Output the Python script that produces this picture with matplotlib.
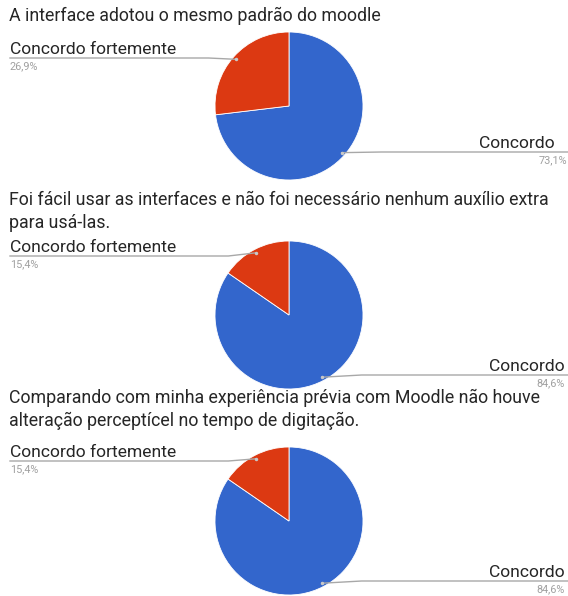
import numpy as np
import matplotlib.pyplot as plt

# DATA
titles = ["A interface adotou o mesmo padrão do moodle",
          "Foi fácil usar as interfaces e não foi necessário nenhum auxílio extra\npara usá-las.",
          "Comparando com minha experiência prévia com Moodle não houve\nalteração perceptícel no tempo de digitação."]
categories = ["Concordo", "Concordo fortemente"]
concordo = [73.1, 84.6, 84.6]
concordo_fortemente = [26.9, 15.4, 15.4]
colors = ["#3366cc", "#dc3912"]

# LAYOUT (pixels, top-left origin)
W, H = 568, 596
pie_cx = 289
pie_cy = [106, 315, 521]
pie_r = 74
title_base = [21, 205, 403]
left_line_y = [58, 256, 461]
right_line_y = [152, 375, 581]
right_text_x = [555, 565, 565]
right_pct_x = [567, 565, 565]

plt.rcParams['font.family'] = ['Roboto', 'DejaVu Sans']

fig = plt.figure(figsize=(W / 100, H / 100), dpi=100)
ov = fig.add_axes([0, 0, 1, 1])
ov.set_xlim(0, W)
ov.set_ylim(H, 0)
ov.axis('off')
ov.set_zorder(5)
ov.patch.set_alpha(0)

def to_overlay(ax, x, y):
    #converts pie data coords to overlay pixel coords
    disp = ax.transData.transform((x, y))
    return ov.transData.inverted().transform(disp)

for i in range(3):
    cy = pie_cy[i]
    ax = fig.add_axes([(pie_cx - pie_r) / W, 1 - (cy + pie_r) / H, 2 * pie_r / W, 2 * pie_r / H])
    vals = [concordo[i], concordo_fortemente[i]]
    ax.pie(vals, colors=colors, startangle=90, counterclock=False, radius=1,
           wedgeprops=dict(edgecolor='white', linewidth=0.6))
    ax.set_xlim(-1, 1)
    ax.set_ylim(-1, 1)
    ax.axis('off')

    # title lines
    for j, line in enumerate(titles[i].split('\n')):
        ov.text(9, title_base[i] + j * 22.5, line, fontsize=12.8, color='#262626', va='baseline', ha='left')

    # slice mid angles for leader dots
    total = sum(vals)
    start = 90.0
    for k, v in enumerate(vals):
        ang = np.radians(start - 360 * v / total / 2)
        start -= 360 * v / total
        dx, dy = to_overlay(ax, 0.95 * np.cos(ang), 0.95 * np.sin(ang))
        pct = ("%.1f%%" % (100 * v / total)).replace('.', ',')
        if k == 0:
            ly = right_line_y[i]
            ex = dx + 40
            ov.plot([dx, ex, W], [dy, ly, ly], color='#a8a8a8', lw=1.0)
            ov.text(right_text_x[i], ly - 4, categories[k], fontsize=12.6, color='#262626', ha='right', va='baseline')
            ov.text(right_pct_x[i], ly + 3, pct, fontsize=7.8, color='#a0a0a0', ha='right', va='top')
        else:
            ly = left_line_y[i]
            ex = dx - 28
            ov.plot([dx, ex, 10], [dy, ly, ly], color='#a8a8a8', lw=1.0)
            ov.text(10, ly - 4, categories[k], fontsize=12.6, color='#262626', ha='left', va='baseline')
            ov.text(10, ly + 3, pct, fontsize=7.8, color='#a0a0a0', ha='left', va='top')
        ov.plot(dx, dy, 'o', ms=2.5, color='#c8c8c8', mec='none')

fig.savefig('out.png', dpi=100)
